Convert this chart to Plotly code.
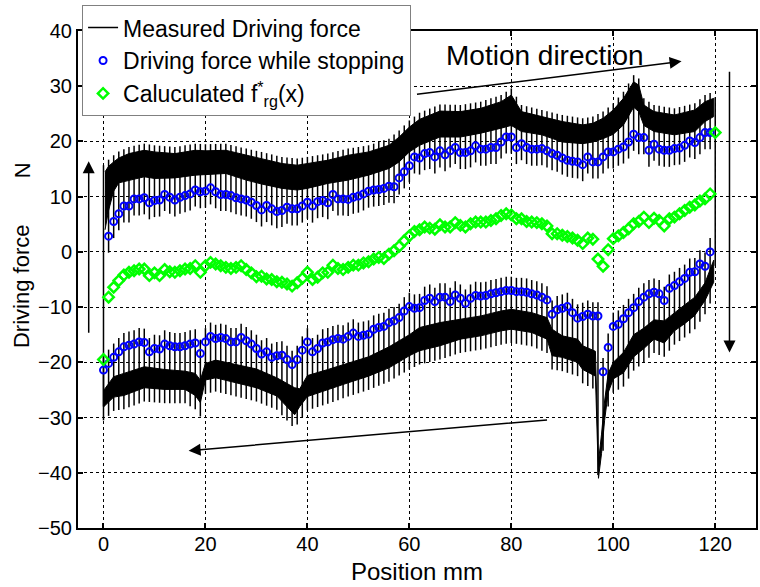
import numpy as np
import plotly.graph_objects as go

# ---------------------------------------------------------------- data
# Stop positions (mm) and the force held while the stage is stopped (N)
fwd_x = list(range(1, 120))
fwd_stop = [
    2.85, 5.5, 6.9, 8.3, 8.3, 9.6, 9.6, 9.8, 8.9, 9.3,
    9.4, 10.4, 9.9, 9.4, 9.9, 10.2, 10.5, 11.2, 10.9, 11.0,
    11.6, 10.9, 10.4, 10.4, 10.2, 9.8, 9.6, 9.4, 9.0, 8.4,
    7.6, 8.4, 7.8, 7.3, 7.5, 8.1, 7.8, 7.8, 8.3, 9.0,
    8.3, 9.1, 9.3, 8.9, 10.4, 9.6, 9.6, 9.5, 9.9, 10.1,
    10.5, 11.0, 11.2, 11.3, 11.5, 11.9, 11.8, 13.4, 14.5, 15.6,
    17.2, 17.0, 17.8, 18.0, 17.2, 18.3, 17.6, 18.3, 18.9, 18.0,
    18.0, 18.3, 19.2, 18.6, 18.6, 18.9, 18.9, 19.9, 20.8, 20.8,
    18.9, 19.6, 18.9, 18.6, 18.6, 18.7, 18.3, 17.8, 17.5, 17.0,
    16.6, 16.4, 16.3, 15.8, 17.2, 16.3, 16.3, 17.2, 18.1, 18.1,
    18.6, 19.0, 19.9, 21.3, 20.7, 20.7, 18.4, 19.5, 18.6, 18.4,
    18.4, 18.7, 18.8, 19.3, 20.1, 19.8, 20.7, 21.6, 21.6,
]
bwd_x = list(range(0, 120))
bwd_stop = [
    -21.4, -20.2, -19.1, -18.1, -17.2, -16.9, -16.7, -16.3, -16.4, -18.1,
    -17.5, -17.6, -16.7, -17.0, -17.2, -17.2, -17.0, -16.7, -16.5, -18.4,
    -16.3, -15.3, -15.7, -15.5, -15.7, -16.3, -16.3, -15.5, -16.1, -16.7,
    -17.5, -18.5, -18.1, -19.1, -18.8, -18.7, -19.5, -20.4, -19.5, -17.8,
    -16.3, -18.1, -17.5, -16.5, -16.3, -15.9, -15.7, -15.8, -15.3, -14.7,
    -15.3, -15.1, -14.9, -14.0, -13.7, -13.5, -12.8, -12.5, -11.9, -10.7,
    -9.9, -10.2, -10.1, -8.8, -8.4, -9.0, -8.2, -8.2, -9.0, -7.8,
    -8.4, -9.3, -8.4, -7.9, -8.0, -7.9, -7.6, -7.4, -7.2, -7.0,
    -7.0, -7.2, -7.2, -7.3, -7.6, -7.8, -8.2, -8.7, -11.3, -10.5,
    -10.2, -9.9, -11.0, -12.0, -11.7, -11.3, -11.6, -11.6, -21.7, -17.3,
    -13.5, -13.1, -12.1, -11.0, -10.1, -9.0, -8.2, -7.6, -7.3, -7.6,
    -8.8, -6.6, -6.1, -5.4, -4.8, -3.7, -3.6, -2.2, -2.6, 0.0,
]

# Calculated f*_rg(x)
calc_x = list(range(0, 121))
calc_f = [
    -19.5, -8.2, -6.4, -5.2, -4.2, -3.7, -3.4, -3.1, -3.1, -4.3,
    -3.8, -4.3, -3.2, -3.6, -3.7, -3.4, -3.1, -3.0, -2.5, -3.7,
    -2.5, -1.9, -2.2, -2.5, -2.8, -3.0, -2.8, -2.5, -3.2, -3.8,
    -4.5, -4.4, -4.9, -5.0, -5.4, -5.5, -5.8, -6.2, -5.6, -4.8,
    -3.7, -5.0, -4.6, -3.8, -3.7, -2.4, -3.0, -3.2, -2.8, -2.4,
    -2.4, -2.0, -1.8, -1.3, -1.0, -1.2, -0.4, 0.2, 1.0, 2.0,
    2.9, 3.7, 4.0, 4.5, 4.3, 4.1, 4.9, 4.5, 4.5, 5.3,
    4.8, 4.5, 5.1, 5.4, 5.4, 5.4, 5.7, 6.0, 6.6, 6.9,
    6.7, 6.0, 6.0, 5.5, 5.4, 5.3, 5.1, 4.7, 3.3, 3.3,
    3.0, 2.8, 2.5, 2.1, 1.5, 2.5, 2.3, -1.3, -2.6, 0.4,
    2.4, 2.9, 3.5, 4.2, 5.1, 5.5, 6.3, 5.3, 6.1, 5.7,
    4.7, 6.0, 6.3, 6.9, 7.5, 8.1, 8.5, 9.2, 9.6, 10.5,
    21.6,
]

# Measured driving force: envelope of the running signal, forward stroke
fwd_env_x = [0.3, 1, 2, 3, 5, 8, 10, 14, 18, 20, 24, 28, 31, 35, 38, 40, 44, 48,
             52, 56, 58, 60, 62, 66, 70, 74, 78, 80, 82, 86, 90, 94, 96, 98, 100,
             102, 104, 105, 106, 108, 112, 116, 118, 119.7]
fwd_env_lo = [4.0, 7.5, 11.0, 12.5, 13.0, 13.6, 13.3, 13.4, 13.9, 14.0, 14.2, 13.0,
              12.3, 11.5, 11.2, 11.5, 12.4, 13.0, 13.9, 15.1, 16.3, 18.1, 19.3,
              20.8, 20.8, 21.5, 22.4, 22.9, 21.8, 21.2, 19.9, 19.6, 19.9, 20.5,
              21.3, 23.0, 26.2, 25.4, 22.9, 21.8, 21.2, 21.8, 23.6, 24.5]
fwd_env_hi = [14.5, 15.5, 16.3, 17.0, 17.8, 18.4, 18.1, 17.8, 18.4, 18.3, 18.4, 17.5,
              16.9, 16.0, 15.7, 16.0, 16.6, 17.5, 18.1, 19.3, 20.8, 22.6, 24.0,
              25.5, 25.4, 26.0, 27.2, 28.4, 25.4, 24.5, 23.6, 23.0, 23.3, 24.2,
              25.7, 27.8, 30.8, 30.2, 26.6, 25.4, 24.8, 25.7, 27.2, 27.8]

# Measured driving force: envelope of the running signal, return stroke
bwd_env_x = [0.1, 2, 4, 8, 12, 16, 18, 19, 20, 22, 26, 30, 34, 37.5, 38.5, 40, 44,
             48, 52, 56, 60, 62, 66, 70, 74, 78, 80, 84, 87, 88, 90, 93, 94, 96.5,
             97.1, 97.7, 98.3, 99, 100, 102, 104, 106, 108, 110, 112, 114, 116,
             118, 119.7]
bwd_env_lo = [-28.0, -26.3, -26.0, -24.6, -24.9, -24.9, -26.0, -27.3, -23.2, -22.8,
              -23.7, -24.6, -26.1, -29.5, -28.0, -26.2, -25.0, -23.7, -22.5, -21.0,
              -18.8, -17.9, -17.0, -15.8, -15.2, -14.3, -14.0, -14.6, -15.8, -18.8,
              -19.1, -20.0, -21.3, -22.5, -41.0, -36.5, -30.5, -25.5, -23.0, -21.9,
              -19.0, -17.5, -15.8, -16.5, -14.3, -13.0, -11.5, -8.8, -5.5]
bwd_env_hi = [-25.0, -22.6, -22.0, -20.8, -21.3, -21.6, -22.0, -23.2, -20.2, -19.6,
              -20.4, -21.2, -22.8, -24.6, -24.8, -22.4, -21.3, -20.1, -19.0, -17.2,
              -15.0, -13.7, -12.8, -12.2, -11.6, -10.7, -10.4, -11.0, -11.9, -14.0,
              -15.2, -15.8, -17.0, -18.0, -38.0, -33.0, -27.0, -22.0, -20.0, -18.2,
              -15.0, -13.8, -12.3, -12.5, -11.0, -9.6, -8.2, -5.6, -1.5]

# Reversal of the stroke at both ends of the travel
turn_x = [0, 120]
turn_lo = [-28.0, -2.5]
turn_hi = [15.7, 28.0]

# ---------------------------------------------------------------- style
BLACK = "#000000"
BLUE = "#0000FF"
GREEN = "#00FF00"
FONT = "Liberation Sans, Arial, sans-serif"
DIP_BELOW = 3.0      # how far a stop transient undershoots on the forward stroke
RISE_ABOVE = 1.2
BACK_ABOVE = 2.5
BACK_BELOW = 2.5

fig = go.Figure()


def band(xs, lo, hi):
    return go.Scatter(
        x=list(xs) + list(xs)[::-1],
        y=list(hi) + list(lo)[::-1],
        mode="lines", fill="toself", fillcolor=BLACK,
        line=dict(color=BLACK, width=1),
        hoverinfo="skip", showlegend=False,
    )


fig.add_trace(band(fwd_env_x, fwd_env_lo, fwd_env_hi))
fig.add_trace(band(bwd_env_x, bwd_env_lo, bwd_env_hi))

# transients at every stop plus the reversals at both ends
fwd_top = np.interp(fwd_x, fwd_env_x, fwd_env_hi)
bwd_bot = np.interp(bwd_x, bwd_env_x, bwd_env_lo)
sx, sy = [], []
for x, s, t in zip(fwd_x, fwd_stop, fwd_top):
    sx += [x, x, None]
    sy += [s - DIP_BELOW, t + RISE_ABOVE, None]
for x, s, b in zip(bwd_x, bwd_stop, bwd_bot):
    sx += [x, x, None]
    sy += [b - BACK_BELOW, s + BACK_ABOVE, None]
for x, lo, hi in zip(turn_x, turn_lo, turn_hi):
    sx += [x, x, None]
    sy += [lo, hi, None]

fig.add_trace(go.Scatter(
    x=sx, y=sy, mode="lines", line=dict(color=BLACK, width=1.5),
    name="Measured Driving force", connectgaps=False, hoverinfo="skip",
))

fig.add_trace(go.Scatter(
    x=fwd_x + bwd_x, y=fwd_stop + bwd_stop, mode="markers",
    marker=dict(symbol="circle-open", size=7, color=BLUE, line=dict(width=2, color=BLUE)),
    name="Driving force while stopping",
))

fig.add_trace(go.Scatter(
    x=calc_x, y=calc_f, mode="markers",
    marker=dict(symbol="diamond-open", size=8, color=GREEN, line=dict(width=2.5, color=GREEN)),
    name="Caluculated f<sup>*</sup><sub>rg</sub>(x)",
))

axis_common = dict(
    showgrid=True, gridcolor=BLACK, griddash="dot", gridwidth=1,
    showline=True, linecolor=BLACK, linewidth=2, mirror="ticks",
    ticks="inside", ticklen=5, tickwidth=2, tickcolor=BLACK,
    tickfont=dict(family=FONT, size=20, color=BLACK),
    zeroline=False,
)

fig.update_layout(
    width=760, height=587,
    margin=dict(l=78, r=2, t=31, b=59),
    paper_bgcolor="white", plot_bgcolor="white",
    xaxis=dict(range=[-5, 128], tickvals=[0, 20, 40, 60, 80, 100, 120],
               ticklabelstandoff=-3, **axis_common),
    yaxis=dict(range=[-50, 40], tickvals=list(range(-50, 41, 10)), **axis_common),
    legend=dict(
        x=0.006, y=1.052, xanchor="left", yanchor="top",
        bgcolor="white", bordercolor="#808080", borderwidth=1,
        font=dict(family=FONT, size=23, color=BLACK),
        tracegroupgap=0,
    ),
    font=dict(family=FONT, color=BLACK),
)

annotations = [
    dict(text="Position mm", xref="paper", yref="paper", x=0.5, y=-0.1187,
         xanchor="center", yanchor="bottom", showarrow=False,
         font=dict(family=FONT, size=24, color=BLACK)),
    dict(text="Driving force", xref="paper", yref="paper", x=-0.0825, y=0.485,
         xanchor="center", yanchor="middle", textangle=-90, showarrow=False,
         font=dict(family=FONT, size=22, color=BLACK)),
    dict(text="N", xref="paper", yref="paper", x=-0.0825, y=0.72,
         xanchor="center", yanchor="middle", textangle=-90, showarrow=False,
         font=dict(family=FONT, size=22, color=BLACK)),
    dict(text="Motion direction", xref="x", yref="y", x=86.6, y=35.5,
         xanchor="center", yanchor="middle", showarrow=False,
         font=dict(family=FONT, size=28, color=BLACK)),
]

# direction arrows: (tail x, tail y, head x, head y)
arrows = [
    (61.2, 28.5, 113.4, 34.5),
    (122.8, 32.9, 122.8, -18.2),
    (-2.9, -14.9, -2.9, 16.4),
    (87.3, -30.4, 16.7, -36.0),
]
for tx, ty, hx, hy in arrows:
    annotations.append(dict(
        x=hx, y=hy, ax=tx, ay=ty, xref="x", yref="y", axref="x", ayref="y",
        text="", showarrow=True, arrowhead=2, arrowsize=1.6, arrowwidth=1.5,
        arrowcolor=BLACK,
    ))

fig.update_layout(annotations=annotations)

fig.write_html("out.html")
